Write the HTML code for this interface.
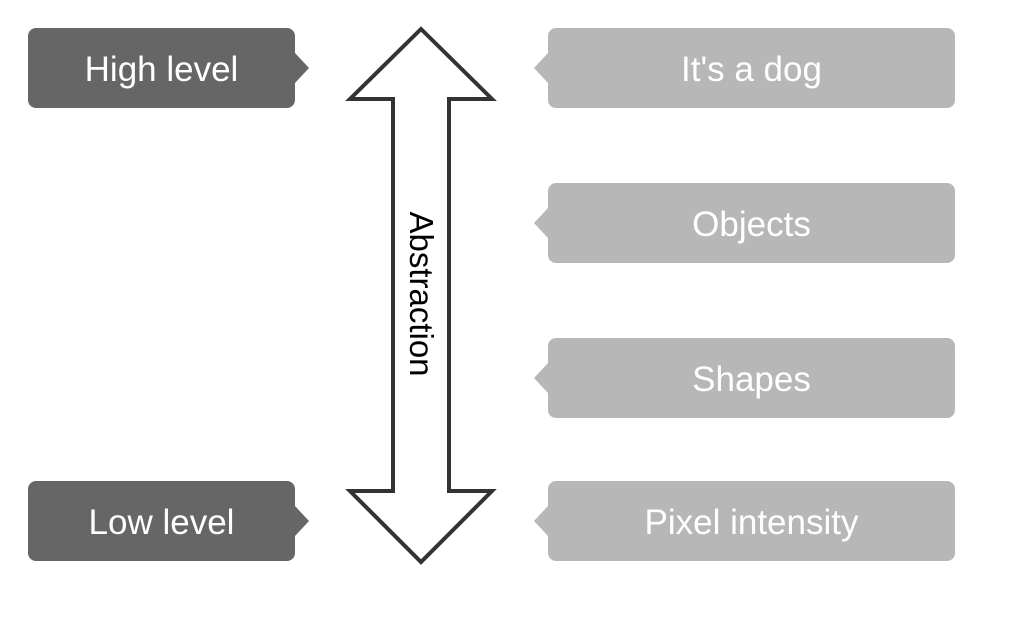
<!DOCTYPE html>
<html><head><style>
body{margin:0;width:1023px;height:641px;background:#fff;position:relative;overflow:hidden;font-family:"Liberation Sans",sans-serif}
.b{position:absolute;border-radius:8px;color:#fff;font-size:35px;display:flex;align-items:center;justify-content:center;padding-top:4px;box-sizing:border-box}
.d{background:#666;left:28px;width:267px;height:80px}
.l{background:#b7b7b7;left:548px;width:407px;height:80px}
.d:after{content:"";position:absolute;right:-14px;top:25px;border-left:14px solid #666;border-top:15px solid transparent;border-bottom:15px solid transparent}
.l:before{content:"";position:absolute;left:-14px;top:25px;border-right:14px solid #b7b7b7;border-top:15px solid transparent;border-bottom:15px solid transparent}
</style></head><body>
<div class="b d" style="top:28px">High level</div>
<div class="b d" style="top:481px">Low level</div>
<div class="b l" style="top:28px">It's a dog</div>
<div class="b l" style="top:183px">Objects</div>
<div class="b l" style="top:338px">Shapes</div>
<div class="b l" style="top:481px">Pixel intensity</div>
<svg width="1023" height="641" style="position:absolute;left:0;top:0">
<polygon points="421,29 492,99 449,99 449,491 492,491 421,562 350,491 393,491 393,99 350,99" fill="#fff" stroke="#333" stroke-width="4"/>
<text x="0" y="0" transform="translate(410,294) rotate(90)" text-anchor="middle" font-family="Liberation Sans" font-size="33" fill="#000">Abstraction</text>
</svg>
</body></html>
